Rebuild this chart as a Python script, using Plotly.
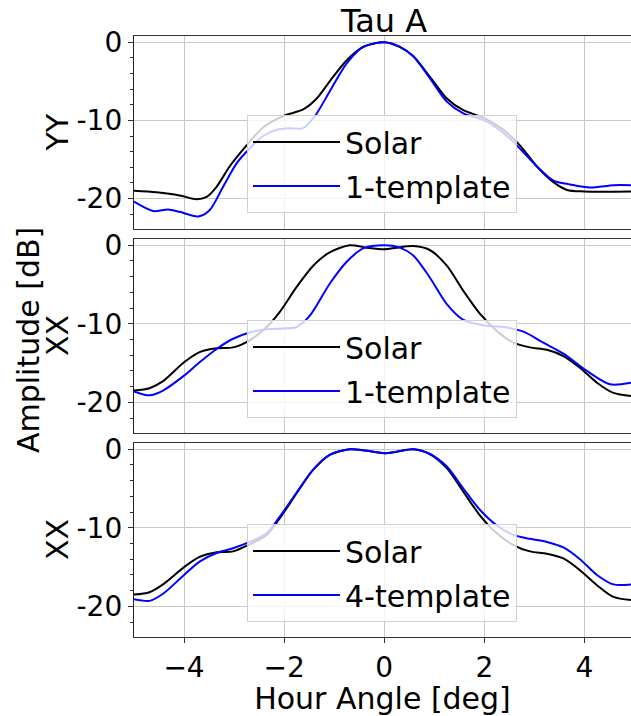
import plotly.graph_objects as go

# ---------------- data ----------------
# Panel 1 (YY, Solar vs 1-template)
yy_solar_x = [-5.0, -4.55, -4.09, -3.75, -3.55, -3.35, -3.09, -2.75, -2.42, -2.0, -1.62, -1.35, -1.09, -0.75, -0.42, 0.0,
              0.31, 0.58, 0.91, 1.25, 1.58, 2.0, 2.38, 2.71, 3.05, 3.38, 3.65, 4.0, 4.93]
yy_solar_y = [-19.0, -19.2, -19.6, -20.1, -19.8, -18.5, -15.9, -13.2, -10.9, -9.4, -8.6, -7.2, -5.0, -2.3, -0.6, 0.0,
              -0.6, -1.8, -4.4, -7.2, -8.7, -9.7, -11.2, -13.2, -15.9, -17.9, -18.9, -19.1, -19.1]
yy_tmpl_x = [-5.0, -4.62, -4.32, -4.09, -3.72, -3.49, -3.22, -2.95, -2.69, -2.42, -2.15, -1.89, -1.62, -1.39, -1.09, -0.75, -0.42, 0.0,
             0.31, 0.58, 0.91, 1.25, 1.58, 2.0, 2.38, 2.71, 3.05, 3.38, 3.71, 4.11, 4.58, 4.93]
yy_tmpl_y = [-20.4, -21.6, -21.4, -21.7, -22.3, -21.5, -18.5, -15.5, -13.6, -12.0, -11.2, -11.0, -11.0, -9.5, -6.3, -2.7, -0.6, 0.0,
             -0.6, -1.8, -4.6, -7.6, -9.1, -10.0, -11.6, -13.6, -15.9, -17.7, -18.2, -18.6, -18.3, -18.3]

# Panel 2 (XX, Solar vs 1-template)
xx1_solar_x = [-5.0, -4.69, -4.42, -4.0, -3.69, -3.35, -3.02, -2.69, -2.35, -2.09, -1.75, -1.42, -1.09, -0.69, -0.35, 0.0,
               0.25, 0.58, 0.91, 1.25, 1.58, 1.91, 2.25, 2.58, 2.91, 3.25, 3.58, 3.91, 4.25, 4.58, 4.93]
xx1_solar_y = [-18.5, -18.2, -17.3, -14.9, -13.6, -13.1, -13.0, -12.1, -10.4, -8.5, -5.3, -2.6, -0.9, 0.0, -0.3, -0.5,
               -0.3, -0.1, -0.6, -2.6, -5.8, -8.7, -10.9, -12.4, -13.0, -13.3, -14.1, -15.6, -17.5, -18.8, -19.2]
xx1_tmpl_x = [-5.0, -4.69, -4.42, -4.0, -3.69, -3.35, -3.02, -2.69, -2.35, -2.02, -1.75, -1.49, -1.09, -0.75, -0.42, 0.0,
              0.31, 0.58, 0.91, 1.25, 1.58, 2.0, 2.38, 2.78, 3.18, 3.58, 4.05, 4.51, 4.93]
xx1_tmpl_y = [-18.6, -19.1, -18.5, -16.6, -14.9, -13.2, -11.9, -11.1, -10.7, -10.6, -10.4, -9.0, -4.9, -2.1, -0.4, 0.0,
              -0.3, -1.3, -4.1, -7.5, -9.5, -10.2, -10.4, -11.0, -12.4, -13.8, -16.0, -17.7, -17.5]

# Panel 3 (XX, Solar vs 4-template)
xx4_solar_x = [-5.0, -4.69, -4.42, -4.0, -3.69, -3.35, -3.02, -2.69, -2.35, -2.09, -1.75, -1.42, -1.09, -0.69, -0.35, 0.0,
               0.25, 0.58, 0.91, 1.25, 1.58, 1.91, 2.25, 2.58, 2.91, 3.25, 3.58, 3.91, 4.25, 4.58, 4.93]
xx4_solar_y = [-18.5, -18.2, -17.2, -15.0, -13.7, -13.1, -13.0, -12.1, -10.9, -8.8, -5.6, -2.6, -0.7, 0.0, -0.2, -0.5,
               -0.3, 0.0, -0.6, -2.4, -5.4, -8.4, -10.7, -12.2, -13.0, -13.3, -13.9, -15.4, -17.3, -18.8, -19.2]
xx4_tmpl_x = [-5.0, -4.69, -4.42, -4.0, -3.69, -3.35, -3.02, -2.69, -2.35, -2.09, -1.75, -1.42, -1.09, -0.69, -0.35, 0.0,
              0.25, 0.58, 0.91, 1.25, 1.58, 1.91, 2.25, 2.58, 2.91, 3.25, 3.58, 3.91, 4.25, 4.58, 4.93]
xx4_tmpl_y = [-19.1, -19.3, -18.4, -16.0, -14.3, -13.2, -12.6, -11.8, -10.7, -8.6, -5.5, -2.6, -0.7, 0.0, -0.2, -0.5,
              -0.3, 0.0, -0.6, -2.2, -5.0, -7.7, -9.7, -10.9, -11.4, -11.8, -12.5, -14.0, -16.0, -17.2, -17.2]

x_tick_vals = [-4, -2, 0, 2, 4]
y_tick_vals = [0, -10, -20]
y_tick_text = ["0", "-10", "-20"]
panel_labels = ["YY", "XX", "XX"]
template_names = ["1-template", "1-template", "4-template"]

# ---------------- figure ----------------
FONT = "DejaVu Sans"
W, H = 631, 716
ML, MR, MT, MB = 134, 0, 36, 79
ph = H - MT - MB
pw = W - ML - MR

def frac(px):  # pixel row (from top) -> paper y
    return (H - MB - px) / ph

domains = [(frac(229), frac(36)), (frac(433), frac(239)), (frac(637), frac(443))]

fig = go.Figure()
panels = [
    (yy_solar_x, yy_solar_y, yy_tmpl_x, yy_tmpl_y),
    (xx1_solar_x, xx1_solar_y, xx1_tmpl_x, xx1_tmpl_y),
    (xx4_solar_x, xx4_solar_y, xx4_tmpl_x, xx4_tmpl_y),
]
legend_bottoms = [213, 418, 622]

for i, (sx, sy, tx, ty) in enumerate(panels):
    ax = "" if i == 0 else str(i + 1)
    lg = "legend" if i == 0 else f"legend{i + 1}"
    fig.add_trace(go.Scatter(x=sx, y=sy, mode="lines", name="Solar",
                             line=dict(color="black", width=2, shape="spline", smoothing=0.8),
                             xaxis="x" + ax, yaxis="y" + ax, legend=lg, legendgroup=f"s{i}"))
    fig.add_trace(go.Scatter(x=tx, y=ty, mode="lines", name=template_names[i],
                             line=dict(color="#0000ff", width=2, shape="spline", smoothing=0.8),
                             xaxis="x" + ax, yaxis="y" + ax, legend=lg, legendgroup=f"t{i}"))

    xa = dict(range=[-5, 4.93], domain=[0, 1], anchor="y" + ax, automargin=False,
              tickvals=x_tick_vals, showgrid=True, gridcolor="#c8c8c8", gridwidth=1,
              showline=True, linecolor="#333333", linewidth=1.3, mirror=True,
              zeroline=False, tickfont=dict(family=FONT, size=28, color="black"))
    if i < 2:
        xa.update(showticklabels=False, ticks="", matches="x3")
    else:
        xa.update(ticks="outside", ticklen=5, tickcolor="#333333",
                  title=dict(text="Hour Angle [deg]", font=dict(family=FONT, size=30, color="black"), standoff=4))
    ya = dict(range=[-23.9, 0.8], domain=list(domains[i]), anchor="x" + ax, automargin=False,
              tickvals=y_tick_vals, ticktext=y_tick_text, showgrid=True, gridcolor="#c8c8c8", gridwidth=1,
              showline=True, linecolor="#222222", linewidth=1.3, mirror=False, zeroline=False,
              ticks="outside", ticklen=5, tickcolor="#333333",
              minor=dict(dtick=2, ticks="outside", ticklen=3, tickcolor="#333333", showgrid=False),
              tickfont=dict(family=FONT, size=28, color="black"))
    fig.layout["xaxis" + ax] = xa
    fig.layout["yaxis" + ax] = ya

    fig.layout[lg] = dict(x=(247 - ML) / pw, xanchor="left", y=frac(legend_bottoms[i]), yanchor="bottom",
                          bgcolor="rgba(255,255,255,0.8)", bordercolor="#d0d0d0", borderwidth=1,
                          font=dict(family=FONT, size=30, color="black"),
                          traceorder="grouped", tracegroupgap=2, itemwidth=87)

    fig.add_annotation(text=panel_labels[i], xref="paper", yref="paper",
                       x=(57 - ML) / pw, y=(domains[i][0] + domains[i][1]) / 2,
                       xanchor="center", yanchor="middle", textangle=-90, showarrow=False,
                       font=dict(family=FONT, size=30, color="black"))

fig.add_annotation(text="Amplitude [dB]", xref="paper", yref="paper",
                   x=(28 - ML) / pw, y=frac(340), xanchor="center", yanchor="middle",
                   textangle=-90, showarrow=False, font=dict(family=FONT, size=30, color="black"))

fig.add_annotation(text="Tau A", xref="paper", yref="paper",
                   x=(383 - ML) / pw, y=frac(21), xanchor="center", yanchor="middle",
                   showarrow=False, font=dict(family=FONT, size=32, color="black"))

fig.update_layout(
    template="none",
    width=W, height=H,
    margin=dict(l=ML, r=MR, t=MT, b=MB, autoexpand=False),
    paper_bgcolor="white", plot_bgcolor="white",
    showlegend=True,
)

fig.write_html("out.html", config={"displayModeBar": False},
               post_script="document.body.style.margin='0';document.body.style.overflow='hidden';")
